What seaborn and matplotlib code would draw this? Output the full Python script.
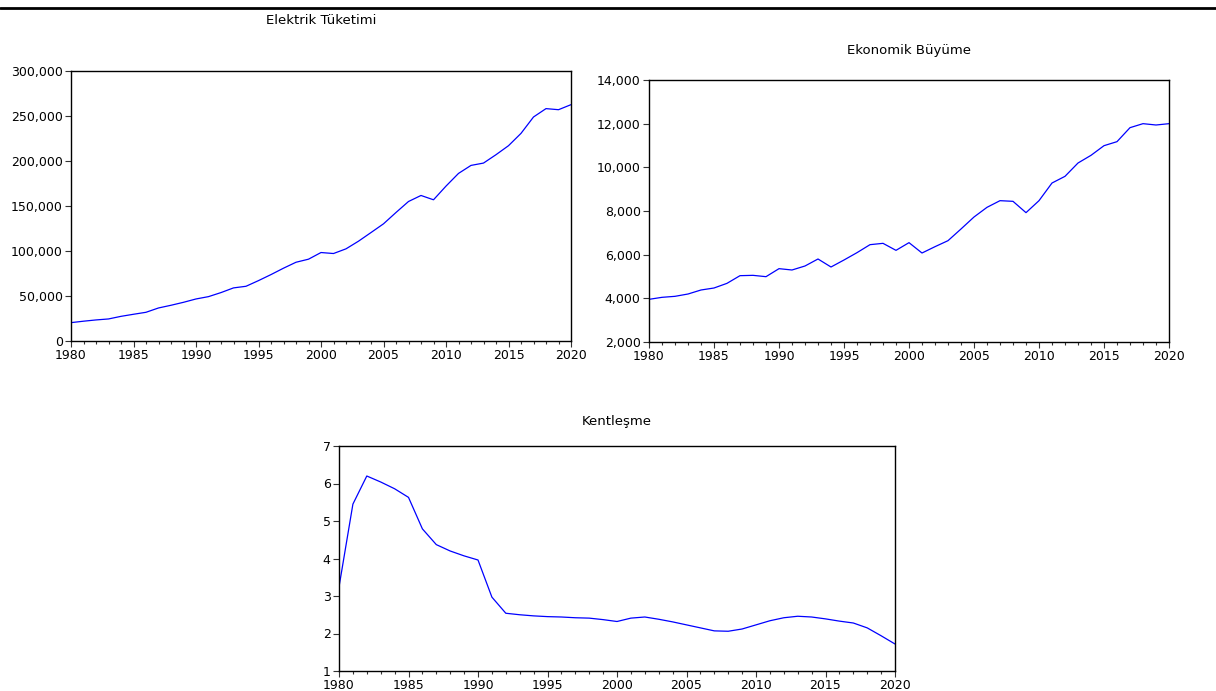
import pandas as pd
import numpy as np
import matplotlib
matplotlib.use("Agg")
import matplotlib.pyplot as plt
from matplotlib.ticker import FuncFormatter, MultipleLocator
import seaborn as sns

# years shared by all three series
years = list(range(1980, 2021))

# electricity consumption
elektrik = [20400, 22000, 23400, 24500, 27400, 29700, 31900, 36700, 39700, 43000,
            46700, 49300, 53800, 59000, 60800, 67100, 73800, 80900, 87500, 90900,
            98300, 97200, 102400, 110900, 120500, 130200, 142800, 155000, 161700, 156900,
            172100, 186200, 195100, 197700, 207000, 217000, 230700, 248900, 258200, 257000,
            262600]

# economic growth
ekonomik = [3954, 4046, 4092, 4198, 4382, 4473, 4687, 5038, 5053, 4992,
            5359, 5298, 5481, 5802, 5435, 5756, 6092, 6458, 6519, 6198,
            6550, 6076, 6366, 6641, 7176, 7725, 8168, 8473, 8443, 7924,
            8473, 9282, 9588, 10198, 10550, 10992, 11176, 11817, 12000, 11939,
            12000]

# urbanisation
kentlesme = [3.24, 5.45, 6.20, 6.04, 5.86, 5.63, 4.79, 4.37, 4.20, 4.07,
             3.96, 2.97, 2.54, 2.50, 2.47, 2.45, 2.44, 2.42, 2.41, 2.37,
             2.32, 2.41, 2.44, 2.38, 2.31, 2.23, 2.15, 2.07, 2.06, 2.12,
             2.23, 2.34, 2.42, 2.46, 2.44, 2.39, 2.33, 2.28, 2.15, 1.94,
             1.72]

df = pd.DataFrame({"year": years, "elektrik": elektrik,
                   "ekonomik": ekonomik, "kentlesme": kentlesme})

sns.set_style("ticks")
plt.rcParams["font.family"] = ["DejaVu Sans"]
plt.rcParams["axes.linewidth"] = 1.0
plt.rcParams["text.color"] = "black"
plt.rcParams["xtick.labelcolor"] = "black"
plt.rcParams["ytick.labelcolor"] = "black"

fig = plt.figure(figsize=(12.16, 6.91), dpi=100)

# thick rule across the top of the page
fig.add_artist(plt.Line2D([0, 1], [1 - 8 / 691, 1 - 8 / 691],
                          transform=fig.transFigure, color="black", lw=2))


def px_axes(left, top, right, bottom):
    # build axes from pixel edges
    W, H = 1216, 691
    return fig.add_axes([left / W, 1 - bottom / H, (right - left) / W, (bottom - top) / H])


def style_panel(ax, col, title, ylim, ystep, fmt, title_y):
    sns.lineplot(data=df, x="year", y=col, ax=ax, color="#0000FF", lw=0.9)
    ax.set_xlim(1980, 2020)
    ax.set_ylim(*ylim)
    ax.xaxis.set_major_locator(MultipleLocator(5))
    ax.xaxis.set_minor_locator(MultipleLocator(1))
    ax.yaxis.set_major_locator(MultipleLocator(ystep))
    ax.yaxis.set_major_formatter(FuncFormatter(fmt))
    ax.tick_params(axis="both", which="major", direction="out", length=4.5,
                   width=0.8, labelsize=9, pad=1.5, color="#333333",
                   labelcolor="black")
    ax.tick_params(axis="x", which="minor", direction="out", length=2.5,
                   width=0.8, color="#333333")
    ax.set_xlabel("")
    ax.set_ylabel("")
    for s in ax.spines.values():
        s.set_visible(True)
        s.set_color("black")
    ax.set_title(title, fontsize=9.5, y=title_y, color="black")


def comma(v, pos):
    return "{:,.0f}".format(v)


ax1 = px_axes(71, 71, 571, 341)
style_panel(ax1, "elektrik", "Elektrik Tüketimi", (0, 300000), 50000, comma, 1.142)

ax2 = px_axes(649, 80, 1169, 342)
style_panel(ax2, "ekonomik", "Ekonomik Büyüme", (2000, 14000), 2000, comma, 1.068)

ax3 = px_axes(339, 446, 895, 671)
style_panel(ax3, "kentlesme", "Kentleşme", (1, 7), 1, lambda v, p: "{:.0f}".format(v), 1.055)

plt.savefig("out.png", dpi=100)
